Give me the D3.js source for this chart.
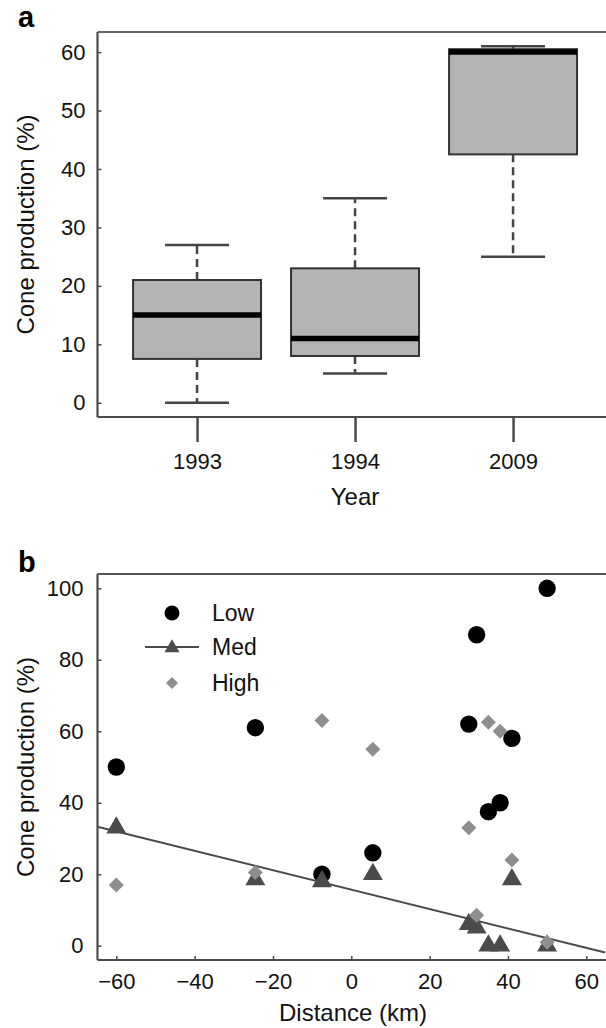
<!DOCTYPE html>
<html>
<head>
<meta charset="utf-8">
<script src="https://cdn.jsdelivr.net/npm/d3@7"></script>
<style>
  html, body { margin: 0; padding: 0; background: #fff; }
  svg { display: block; font-family: "Liberation Sans", Arial, Helvetica, sans-serif; }
</style>
</head>
<body>
<script>
// ---------- Panel a data (box plots) ----------
const years = ["1993", "1994", "2009"];
const whiskerLow = [0, 5, 25];
const quartile1 = [7.5, 8, 42.5];
const medians = [15, 11, 60];
const quartile3 = [21, 23, 60.5];
const whiskerHigh = [27, 35, 61];
const ticksA = [0, 10, 20, 30, 40, 50, 60];

// ---------- Panel b data (scatter) ----------
const siteDistance = [-60, -24.5, -7.5, 5.5, 30, 32, 35, 38, 41, 50];
const lowValues  = [50, 61, 20, 26, 62, 87, 37.5, 40, 58, 100];
const medValues  = [33, 18.5, 18, 20, 6, 5, 0, 0, 18.5, 0];
const highValues = [17, 20.5, 63, 55, 33, 8.5, 62.5, 60, 24, 1];
const distanceTicks = [-60, -40, -20, 0, 20, 40, 60];
const ticksB = [0, 20, 40, 60, 80, 100];
const legendLabels = ["Low", "Med", "High"];

const W = 606, H = 1028;
const svg = d3.select("body").append("svg").attr("width", W).attr("height", H);

const axisColor = "#4a4a4a";
const tickFont = 22, titleFont = 24;

// ================= Panel a =================
const ax = d3.scaleLinear().domain([0.37, 3.63]).range([97.5, 612.6]);
const ay = d3.scaleLinear().domain([-2.44, 63.44]).range([417, 32]);
const ga = svg.append("g");

// frame (top + left + bottom)
ga.append("line").attr("x1", ax.range()[0]).attr("x2", ax.range()[1]).attr("y1", 32).attr("y2", 32)
  .attr("stroke", "#666").attr("stroke-width", 1.8);

const boxes = years.map((y, i) => ({ i: i + 1, lo: whiskerLow[i], q1: quartile1[i], med: medians[i], q3: quartile3[i], hi: whiskerHigh[i] }));
const boxW = 0.81, capW = 0.405;
const bg = ga.selectAll("g.box").data(boxes).join("g").attr("class", "box");
// whiskers dashed
bg.append("line").attr("x1", d => ax(d.i)).attr("x2", d => ax(d.i)).attr("y1", d => ay(d.q3)).attr("y2", d => ay(d.hi))
  .attr("stroke", "#444").attr("stroke-width", 2.5).attr("stroke-dasharray", "8,5");
bg.append("line").attr("x1", d => ax(d.i)).attr("x2", d => ax(d.i)).attr("y1", d => ay(d.q1)).attr("y2", d => ay(d.lo))
  .attr("stroke", "#444").attr("stroke-width", 2.5).attr("stroke-dasharray", "8,5");
// caps
bg.append("line").attr("x1", d => ax(d.i - capW / 2)).attr("x2", d => ax(d.i + capW / 2)).attr("y1", d => ay(d.hi)).attr("y2", d => ay(d.hi))
  .attr("stroke", "#444").attr("stroke-width", 2.5);
bg.append("line").attr("x1", d => ax(d.i - capW / 2)).attr("x2", d => ax(d.i + capW / 2)).attr("y1", d => ay(d.lo)).attr("y2", d => ay(d.lo))
  .attr("stroke", "#444").attr("stroke-width", 2.5);
// box
bg.append("rect").attr("x", d => ax(d.i - boxW / 2)).attr("width", d => ax(d.i + boxW / 2) - ax(d.i - boxW / 2))
  .attr("y", d => ay(d.q3)).attr("height", d => ay(d.q1) - ay(d.q3))
  .attr("fill", "#b4b4b4").attr("stroke", "#333").attr("stroke-width", 2);
// median
bg.append("line").attr("x1", d => ax(d.i - boxW / 2)).attr("x2", d => ax(d.i + boxW / 2)).attr("y1", d => ay(d.med)).attr("y2", d => ay(d.med))
  .attr("stroke", "#000").attr("stroke-width", 5.5);

// y axis a
const yAxisA = ga.append("g").attr("transform", "translate(97.5,0)")
  .call(d3.axisLeft(ay).tickValues(ticksA).tickSize(-4).tickPadding(12).tickFormat(d3.format("d")));
yAxisA.select(".domain").remove();
yAxisA.selectAll("line").attr("stroke", axisColor).attr("stroke-width", 1.5);
yAxisA.selectAll("text").attr("font-size", tickFont).attr("fill", "#111").attr("font-family", "Liberation Sans, Arial, sans-serif");
// x axis a
const xAxisA = ga.append("g").attr("transform", "translate(0,417)")
  .call(d3.axisBottom(ax).tickValues([1, 2, 3]).tickSize(25).tickPadding(11).tickFormat((d, i) => years[i]));
xAxisA.select(".domain").remove();
xAxisA.selectAll("line").attr("stroke", axisColor).attr("stroke-width", 2.5);
xAxisA.selectAll("text").attr("font-size", tickFont).attr("fill", "#111").attr("font-family", "Liberation Sans, Arial, sans-serif");
// axis lines
ga.append("line").attr("x1", 97.5).attr("x2", 97.5).attr("y1", 32).attr("y2", 417).attr("stroke", axisColor).attr("stroke-width", 2.2);
ga.append("line").attr("x1", 97.5).attr("x2", 612.6).attr("y1", 417).attr("y2", 417).attr("stroke", axisColor).attr("stroke-width", 2.2);

ga.append("text").attr("x", 355).attr("y", 505).attr("text-anchor", "middle").attr("font-size", titleFont).attr("fill", "#111").text("Year");
ga.append("text").attr("transform", "translate(34,224.5) rotate(-90)").attr("text-anchor", "middle").attr("font-size", titleFont).attr("fill", "#111").text("Cone production (%)");
ga.append("text").attr("x", 18).attr("y", 27).attr("font-size", 29).attr("font-weight", "bold").attr("fill", "#000").text("a");

// ================= Panel b =================
const bx = d3.scaleLinear().domain([-64.8, 64.8]).range([97.5, 605.1]);
const by = d3.scaleLinear().domain([-4, 104]).range([960, 574]);
const gb = svg.append("g");

gb.append("line").attr("x1", 97.5).attr("x2", 606).attr("y1", 574).attr("y2", 574).attr("stroke", "#555").attr("stroke-width", 2.2);

const yAxisB = gb.append("g").attr("transform", "translate(97.5,0)")
  .call(d3.axisLeft(by).tickValues(ticksB).tickSize(-4).tickPadding(14).tickFormat(d3.format("d")));
yAxisB.select(".domain").remove();
yAxisB.selectAll("line").attr("stroke", axisColor).attr("stroke-width", 1.5);
yAxisB.selectAll("text").attr("font-size", tickFont).attr("fill", "#111").attr("font-family", "Liberation Sans, Arial, sans-serif");

const xAxisB = gb.append("g").attr("transform", "translate(0,960)")
  .call(d3.axisBottom(bx).tickValues(distanceTicks).tickSize(-4).tickPadding(13).tickFormat(d => d < 0 ? "\u2212" + Math.abs(d) : String(d)));
xAxisB.select(".domain").remove();
xAxisB.selectAll("line").attr("stroke", axisColor).attr("stroke-width", 1.5);
xAxisB.selectAll("text").attr("font-size", tickFont).attr("fill", "#111").attr("font-family", "Liberation Sans, Arial, sans-serif");

gb.append("line").attr("x1", 97.5).attr("x2", 97.5).attr("y1", 574).attr("y2", 960).attr("stroke", axisColor).attr("stroke-width", 2.2);
gb.append("line").attr("x1", 97.5).attr("x2", 606).attr("y1", 960).attr("y2", 960).attr("stroke", axisColor).attr("stroke-width", 2.2);

const lowColor = "#000", medColor = "#4b4b4b", highColor = "#8e8e8e";
const triPath = (a) => { const h = a * Math.sqrt(3) / 2; return `M0,${-2 * h / 3}L${a / 2},${h / 3}L${-a / 2},${h / 3}Z`; };
const diaPath = (s) => `M0,${-s}L${s},0L0,${s}L${-s},0Z`;

const lowPts = siteDistance.map((d, i) => ({ x: d, y: lowValues[i] }));
const medPts = siteDistance.map((d, i) => ({ x: d, y: medValues[i] }));
const highPts = siteDistance.map((d, i) => ({ x: d, y: highValues[i] }));

gb.selectAll("circle.low").data(lowPts).join("circle").attr("class", "low")
  .attr("cx", d => bx(d.x)).attr("cy", d => by(d.y)).attr("r", 8.7).attr("fill", lowColor);
gb.selectAll("path.med").data(medPts).join("path").attr("class", "med")
  .attr("transform", d => `translate(${bx(d.x)},${by(d.y)})`).attr("d", triPath(20)).attr("fill", medColor);

// least-squares fit of the Med series
const mx = d3.mean(medPts, d => d.x), my = d3.mean(medPts, d => d.y);
const slope = d3.sum(medPts, d => (d.x - mx) * (d.y - my)) / d3.sum(medPts, d => (d.x - mx) ** 2);
const intercept = my - slope * mx;
const fitX = bx.domain();
gb.append("path").datum(fitX).attr("d", d3.line().x(d => bx(d)).y(d => by(intercept + slope * d)))
  .attr("fill", "none").attr("stroke", "#4a4a4a").attr("stroke-width", 2);

gb.selectAll("path.high").data(highPts).join("path").attr("class", "high")
  .attr("transform", d => `translate(${bx(d.x)},${by(d.y)})`).attr("d", diaPath(7.5)).attr("fill", highColor);

// legend
const lg = gb.append("g");
const legendY = [613, 647, 683];
lg.append("circle").attr("cx", 172).attr("cy", legendY[0]).attr("r", 7.5).attr("fill", lowColor);
lg.append("line").attr("x1", 145).attr("x2", 199).attr("y1", legendY[1]).attr("y2", legendY[1]).attr("stroke", "#4a4a4a").attr("stroke-width", 2);
lg.append("path").attr("transform", `translate(172,${legendY[1] + 1})`).attr("d", triPath(15)).attr("fill", medColor);
lg.append("path").attr("transform", `translate(172,${legendY[2]})`).attr("d", diaPath(6)).attr("fill", highColor);
lg.selectAll("text").data(legendLabels).join("text").attr("x", 212).attr("y", (d, i) => legendY[i]).attr("dy", "0.35em")
  .attr("font-size", 23).attr("fill", "#111").text(d => d);

gb.append("text").attr("x", 353).attr("y", 1021).attr("text-anchor", "middle").attr("font-size", titleFont).attr("fill", "#111").text("Distance (km)");
gb.append("text").attr("transform", "translate(34,767) rotate(-90)").attr("text-anchor", "middle").attr("font-size", titleFont).attr("fill", "#111").text("Cone production (%)");
gb.append("text").attr("x", 18).attr("y", 572).attr("font-size", 29).attr("font-weight", "bold").attr("fill", "#000").text("b");
</script>
</body>
</html>
